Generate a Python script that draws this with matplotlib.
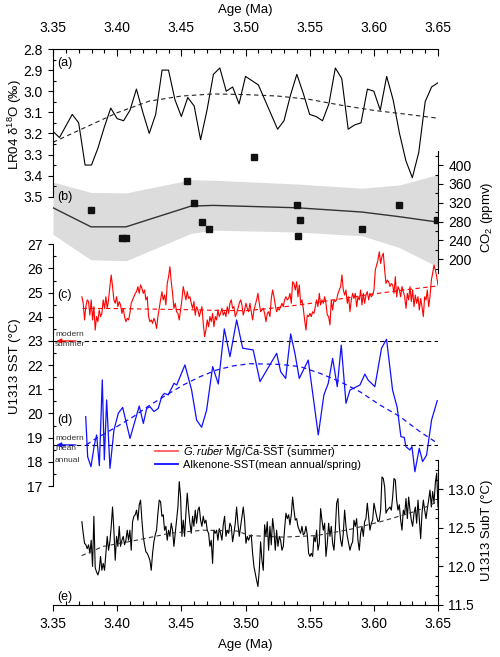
import numpy as np
import matplotlib.pyplot as plt
from matplotlib.ticker import MultipleLocator, FormatStrFormatter

plt.rcParams['font.family'] = ['Liberation Sans', 'DejaVu Sans']
plt.rcParams['mathtext.fontset'] = 'custom'
plt.rcParams['mathtext.rm'] = 'Liberation Sans'
plt.rcParams['mathtext.it'] = 'Liberation Sans:italic'
plt.rcParams['font.size'] = 10

# ---------------- data ----------------
# (a) LR04 benthic d18O, 5 kyr steps
lr04_age = np.round(np.arange(3.35, 3.6501, 0.005), 3)
lr04_d18o = [3.19, 3.22, 3.165, 3.11, 3.15, 3.35, 3.35, 3.27, 3.17, 3.08,
             3.13, 3.14, 3.09, 2.99, 3.10, 3.20, 3.11, 2.90, 2.90, 3.04,
             3.12, 3.03, 3.07, 3.23, 3.09, 2.92, 2.89, 3.00, 2.98, 3.06,
             2.93, 2.95, 2.97, 3.04, 3.11, 3.18, 3.14, 3.02, 2.92, 3.01,
             3.11, 3.12, 3.14, 3.06, 2.89, 2.94, 3.18, 3.16, 3.15, 2.99,
             3.00, 3.09, 2.93, 3.04, 3.20, 3.33, 3.41, 3.29, 3.05, 2.98,
             2.96]
lr04_trend_age = [3.35, 3.375, 3.40, 3.425, 3.45, 3.475, 3.50, 3.525, 3.55,
                  3.575, 3.60, 3.625, 3.65]
lr04_trend = [3.242, 3.172, 3.102, 3.047, 3.023, 3.013, 3.016, 3.023, 3.039,
              3.067, 3.091, 3.109, 3.128]

# (b) CO2
co2_age = [3.3796, 3.4035, 3.4069, 3.4547, 3.4601, 3.4659, 3.4716, 3.5064,
           3.5399, 3.5425, 3.5407, 3.5908, 3.6199, 3.6490]
co2_ppmv = [305, 245, 245, 367, 319, 280, 265, 417, 316, 283, 249, 264, 315, 284]
co2_fit_age = [3.35, 3.3796, 3.4069, 3.4575, 3.4749, 3.5399, 3.5908, 3.62, 3.65]
co2_fit = [309.5, 269, 269, 313, 314.5, 309.5, 300.4, 290.5, 279]
co2_upper = [364, 342, 341, 369, 368, 360, 351, 358, 380]
co2_lower = [253, 199, 197, 255, 262, 258, 250, 225, 184]

# (c) G. ruber Mg/Ca SST (summer)
ruber_sst = [
    24.83, 24.56, 23.87, 24.42, 24.70, 24.63, 24.07, 24.70, 23.87, 24.42,
    23.45, 24.01, 23.80, 24.28, 24.01, 24.14, 24.70, 24.35, 24.83, 24.35,
    24.70, 25.25, 25.73, 25.25, 24.70, 24.56, 24.83, 24.42, 24.63, 24.49,
    24.14, 24.35, 24.01, 23.80, 23.94, 23.87, 24.14, 24.56, 24.70, 24.83,
    24.97, 25.04, 25.25, 24.97, 25.32, 25.18, 24.97, 25.11, 24.70, 24.83,
    24.01, 23.80, 23.87, 23.73, 23.94, 23.80, 23.52, 24.01, 24.35, 24.70,
    25.04, 24.70, 24.90, 24.49, 25.38, 25.66, 26.07, 25.45, 24.97, 24.35,
    24.56, 24.21, 24.14, 23.87, 24.28, 24.70, 25.25, 24.97, 24.70, 25.04,
    24.76, 24.83, 24.56, 24.35, 24.63, 24.07, 24.42, 24.28, 24.01, 24.21,
    24.42, 23.73, 23.18, 23.45, 23.87, 23.59, 24.01, 23.80, 24.14, 23.59,
    24.01, 23.87, 24.28, 24.01, 24.14, 24.35, 24.07, 24.21, 24.01, 24.42,
    24.14, 24.56, 24.70, 24.35, 24.42, 24.01, 24.14, 24.35, 24.56, 24.70,
    24.49, 24.07, 24.28, 24.56, 24.35, 24.21,
    24.56, 24.21, 23.87, 24.28, 24.49, 24.70, 24.97, 24.56, 24.21, 24.28,
    24.35, 24.14, 23.80, 24.14, 24.21, 24.01, 24.76, 25.11, 24.83, 24.49,
    24.21, 24.35, 24.28, 24.42, 24.56, 24.42, 24.70, 24.83, 24.70, 24.76,
    24.97, 24.56, 25.45, 25.38, 25.11, 25.45, 24.83, 25.32, 24.56, 24.70,
    24.35, 23.87, 23.45, 24.07, 24.01, 24.14, 24.01, 24.21, 24.14, 24.42,
    24.70, 24.42, 24.97, 24.49, 24.70, 24.56, 24.83, 24.56, 24.07, 24.01,
    23.66, 24.70, 24.28, 24.70, 24.63, 24.70, 24.97, 25.11, 25.25, 25.73,
    25.11, 24.90, 25.11, 24.56, 24.83, 24.21, 24.70, 24.97, 24.76, 24.97,
    24.42, 24.83, 24.70, 25.11, 24.49, 24.97, 24.56, 24.90, 25.04, 24.70,
    24.97, 24.83, 24.90, 25.11, 25.94, 26.14, 26.35, 26.69, 26.21, 26.49,
    26.63, 25.94, 25.38, 25.52, 25.45, 25.25, 25.38, 25.32, 24.97, 25.66,
    24.83, 25.25, 25.11, 24.83, 25.25, 25.04, 24.83, 24.35, 24.97, 24.70,
    25.25, 24.63, 25.11, 24.42, 24.90, 24.56, 24.83, 24.28, 24.76, 24.42,
    24.01, 24.83, 24.70, 25.11, 24.42, 24.83, 25.52, 25.80, 26.14, 25.94,
    25.66, 25.32]
ruber_age = np.linspace(3.3725, 3.65, len(ruber_sst))
ruber_trend_age = [3.373, 3.40, 3.425, 3.45, 3.475, 3.50, 3.525, 3.55, 3.575,
                   3.60, 3.625, 3.65]
ruber_trend = [24.35, 24.34, 24.32, 24.30, 24.27, 24.25, 24.38, 24.55, 24.75,
               24.95, 25.12, 25.28]

# (d) alkenone SST
alk_age = [3.3755, 3.3770, 3.3796, 3.3822, 3.3840, 3.3861, 3.3884, 3.3900,
           3.3918, 3.3944, 3.3975, 3.4009, 3.4043, 3.4100, 3.4172, 3.4204,
           3.4230, 3.4256, 3.4287, 3.4320, 3.4347, 3.4367, 3.4398, 3.4443,
           3.4464, 3.4528, 3.4580, 3.4619, 3.4658, 3.4697, 3.4744, 3.4788,
           3.4835, 3.4879, 3.4931, 3.4978, 3.5060, 3.5113, 3.5243, 3.5274,
           3.5313, 3.5352, 3.5385, 3.5419, 3.5489, 3.5567, 3.5611, 3.5645,
           3.5679, 3.5715, 3.5746, 3.5783, 3.5814, 3.5892, 3.5930, 3.5956,
           3.6008, 3.6060, 3.6099, 3.6146, 3.6182, 3.6211, 3.6237, 3.6250,
           3.6281, 3.6297, 3.6320, 3.6354, 3.6380, 3.6411, 3.6450, 3.6494]
alk_sst = [19.87, 18.21, 17.80, 18.70, 19.11, 17.84, 21.39, 18.08, 20.56, 17.73,
           19.32, 20.01, 20.25, 18.97, 20.31, 19.59, 20.21, 20.28, 20.08, 20.21,
           20.70, 20.83, 20.77, 21.25, 21.18, 22.01, 20.97, 19.73, 19.43, 20.14,
           21.94, 21.22, 23.50, 22.35, 23.87, 22.70, 22.63, 21.32, 22.49, 21.73,
           21.45, 23.29, 22.49, 21.45, 22.21, 19.11, 20.77, 21.25, 22.28, 21.11,
           22.83, 20.42, 20.97, 21.18, 21.63, 21.38, 21.11, 22.70, 23.07, 20.97,
           20.25, 19.04, 19.01, 18.63, 18.49, 18.63, 17.59, 18.56, 18.01, 18.28,
           19.73, 20.53]
alk_trend_age = [3.376, 3.3814, 3.3996, 3.4126, 3.4256, 3.4386, 3.4515, 3.4645,
                 3.4775, 3.4905, 3.5035, 3.5269, 3.5425, 3.5581, 3.5736, 3.5892,
                 3.6048, 3.6204, 3.6359, 3.6515]
alk_trend = [18.70, 18.90, 19.45, 19.87, 20.35, 20.77, 21.18, 21.52, 21.80, 21.97,
             22.06, 22.03, 21.94, 21.66, 21.32, 20.90, 20.35, 19.87, 19.25, 18.70]
modern_summer = 23.0
modern_annual = 18.7

# (e) subsurface temperature
subt = [
    12.58, 12.43, 12.30, 12.28, 12.23, 12.28, 12.17, 12.34, 12.00, 12.65,
    11.98, 11.93, 11.89, 11.95, 12.13, 11.95, 12.04, 11.95, 12.17, 12.39,
    12.21, 12.32, 12.52, 12.77, 12.47, 12.08, 12.39, 12.26, 12.52, 12.26,
    12.34, 12.39, 12.28, 12.34, 12.47, 12.34, 12.47, 12.21, 12.58, 12.65,
    12.67, 12.73, 12.60, 12.80, 12.86, 12.60, 12.39, 12.28, 12.19, 12.17,
    12.13, 12.08, 11.95, 12.17, 12.32, 12.41, 12.47, 12.69, 12.86, 12.84,
    12.65, 12.67, 12.47, 12.52, 12.34, 12.47, 12.39, 12.56, 12.47, 12.26,
    12.43, 12.60, 12.77, 13.10, 12.90, 12.39, 12.60, 12.39, 12.69, 12.95,
    12.73, 12.56, 12.43, 12.65, 12.52, 12.73, 12.56, 12.73, 12.77, 12.60,
    12.52, 12.65, 12.56, 12.60, 12.47, 12.43, 12.26, 12.34, 12.04, 12.47,
    12.43, 12.47, 12.34, 12.49, 12.43, 12.34, 12.54, 12.65, 12.39, 12.47,
    12.43, 12.56, 12.52, 12.32, 12.43, 12.56, 12.77, 12.56, 12.39, 12.52,
    12.65, 12.77, 12.60, 12.30, 12.39, 12.34,
    12.39, 12.41, 12.17, 12.00, 11.91, 11.82, 11.74, 11.95, 12.32, 12.08,
    11.95, 12.54, 12.39, 12.58, 12.21, 12.52, 12.28, 12.62, 12.47, 12.21,
    12.47, 12.26, 12.39, 12.34, 12.21, 12.26, 12.49, 12.69, 12.62, 12.67,
    12.54, 12.67, 12.90, 12.73, 12.60, 12.62, 12.52, 12.47, 12.43, 12.52,
    12.41, 12.43, 12.52, 12.41, 12.17, 12.13, 12.17, 12.13, 12.39, 12.32,
    12.47, 12.21, 12.30, 12.75, 12.60, 12.47, 12.56, 12.13, 12.30, 12.56,
    12.39, 12.52, 12.30, 12.21, 12.47, 12.82, 12.88, 12.52, 12.34, 12.26,
    12.43, 12.73, 12.52, 12.39, 12.30, 12.21, 12.28, 12.32, 12.60, 12.52,
    12.62, 12.34, 12.21, 12.43, 12.52, 12.39, 12.58, 12.62, 12.82, 12.65,
    12.47, 12.56, 12.60, 12.82, 12.73, 12.65, 12.58, 12.60, 12.73, 13.16,
    13.14, 13.03, 12.69, 12.73, 12.75, 12.77, 12.73, 12.90, 13.14, 13.12,
    12.86, 12.73, 12.80, 12.60, 12.47, 12.73, 12.67, 12.88, 12.62, 12.90,
    12.73, 12.60, 12.52, 12.69, 12.77, 12.56, 12.86, 12.60, 12.36, 12.69,
    12.86, 12.73, 12.62, 12.75, 12.86, 12.99, 12.77, 12.97, 12.82, 13.08,
    13.21, 12.77]
subt_age = np.linspace(3.3725, 3.65, len(subt))
subt_trend_age = [3.3723, 3.3892, 3.4151, 3.4411, 3.4671, 3.4931, 3.5035,
                  3.5295, 3.5554, 3.5814, 3.6074, 3.6334, 3.65]
subt_trend = [12.14, 12.26, 12.34, 12.43, 12.47, 12.46, 12.40, 12.38, 12.40,
              12.48, 12.59, 12.72, 12.84]

# ---------------- layout ----------------
W, H = 500, 657
X0, X1 = 53, 438
fig = plt.figure(figsize=(W / 100, H / 100), dpi=100)


def rect(top, bottom):
    return [X0 / W, 1 - bottom / H, (X1 - X0) / W, (bottom - top) / H]


def bare(ax, keep):
    ax.patch.set_alpha(0)
    for s in ['left', 'right', 'top', 'bottom']:
        ax.spines[s].set_visible(s in keep)
        ax.spines[s].set_linewidth(0.8)
    ax.set_xlim(3.35, 3.65)


def yticks(ax, side, major, minor):
    ax.yaxis.set_major_locator(MultipleLocator(major))
    ax.yaxis.set_minor_locator(MultipleLocator(minor))
    if side == 'right':
        ax.yaxis.tick_right()
    ax.tick_params(axis='y', which='major', direction='out', length=3.5,
                   width=0.8, pad=4, labelsize=10)
    ax.tick_params(axis='y', which='minor', direction='in', length=2.5,
                   width=0.8)


def xticks(ax):
    ax.xaxis.set_major_locator(MultipleLocator(0.05))
    ax.xaxis.set_minor_locator(MultipleLocator(0.01))
    ax.xaxis.set_major_formatter(FormatStrFormatter('%.2f'))


dash = (0, (4, 3))

# (b) CO2
ax_b = fig.add_axes(rect(151, 273))
bare(ax_b, ['right'])
ax_b.xaxis.set_visible(False)
ax_b.set_ylim(171, 430)
ax_b.fill_between(co2_fit_age, co2_lower, co2_upper, color='#dcdcdc', lw=0)
ax_b.plot(co2_fit_age, co2_fit, color='#333333', lw=1.0)
ax_b.plot(co2_age, co2_ppmv, 's', color='#111111', ms=5)
yticks(ax_b, 'right', 40, 20)

# (e) SubT
ax_e = fig.add_axes(rect(460, 605))
bare(ax_e, ['right', 'bottom'])
ax_e.set_ylim(11.5, 13.38)
ax_e.plot(subt_age, subt, color='black', lw=0.8)
ax_e.plot(subt_trend_age, subt_trend, color='#333333', lw=0.8, ls=dash)
yticks(ax_e, 'right', 0.5, 0.125)
ax_e.yaxis.set_major_formatter(FormatStrFormatter('%.1f'))
xticks(ax_e)
ax_e.tick_params(axis='x', which='major', direction='out', length=4,
                 width=0.8, pad=5, labelsize=10)
ax_e.tick_params(axis='x', which='minor', direction='in', length=3, width=0.8)

# (c)/(d) SST
ax_cd = fig.add_axes(rect(244.3, 486))
bare(ax_cd, ['left'])
ax_cd.xaxis.set_visible(False)
ax_cd.set_ylim(17, 27)
ax_cd.axhline(modern_summer, color='black', lw=0.8, ls=dash)
ax_cd.axhline(modern_annual, color='black', lw=0.8, ls=dash)
ax_cd.plot(ruber_age, ruber_sst, color='red', lw=0.8,
           label=r'$\it{G.ruber}$ Mg/Ca-SST (summer)')
ax_cd.plot(ruber_trend_age, ruber_trend, color='red', lw=0.8, ls=dash)
ax_cd.plot(alk_age, alk_sst, color='#1010ff', lw=0.9,
           label='Alkenone-SST(mean annual/spring)')
ax_cd.plot(alk_trend_age, alk_trend, color='#1010ff', lw=0.9, ls=dash)
yticks(ax_cd, 'left', 1, 0.5)
ax_cd.annotate('', xy=(3.3505, modern_summer), xytext=(3.370, modern_summer),
               arrowprops=dict(arrowstyle='-|>', color='red', lw=0.9,
                               mutation_scale=7))
ax_cd.annotate('', xy=(3.3505, modern_annual), xytext=(3.370, modern_annual),
               arrowprops=dict(arrowstyle='-|>', color='#1010ff', lw=0.9,
                               mutation_scale=7))
leg = ax_cd.legend(loc='upper left', bbox_to_anchor=(155 / W, 1 - 445 / H),
                   bbox_transform=fig.transFigure, frameon=False, fontsize=8,
                   borderpad=0, borderaxespad=0, handlelength=2.1,
                   handletextpad=0.45, labelspacing=0.1)
leg.get_lines()[0].set_color('#ff5a5a')
for ln in leg.get_lines():
    ln.set_linewidth(1.3)

# (a) LR04
ax_a = fig.add_axes(rect(49, 196.7))
bare(ax_a, ['left', 'top'])
ax_a.set_ylim(3.5, 2.8)
ax_a.plot(lr04_age, lr04_d18o, color='black', lw=0.8)
ax_a.plot(lr04_trend_age, lr04_trend, color='#222222', lw=0.8, ls=dash)
yticks(ax_a, 'left', 0.1, 0.05)
ax_a.yaxis.set_major_formatter(FormatStrFormatter('%.1f'))
ax_a.xaxis.tick_top()
xticks(ax_a)
ax_a.tick_params(axis='x', which='major', direction='in', length=5,
                 width=0.8, pad=10, labelsize=10)
ax_a.tick_params(axis='x', which='minor', direction='in', length=3, width=0.8)

# ---------------- text ----------------
def ftext(x, y, s, **kw):
    fig.text(x / W, 1 - y / H, s, **kw)


ftext(245.5, 10, 'Age (Ma)', ha='center', va='center', fontsize=9.5)
ftext(245.5, 645, 'Age (Ma)', ha='center', va='center', fontsize=9.5)
ftext(15, 125, r'LR04 δ$^{18}$O (‰)', rotation=90, ha='center', va='center',
      fontsize=9.5)
ftext(15, 366, 'U1313 SST (°C)', rotation=90, ha='center', va='center',
      fontsize=9.5)
ftext(487, 217, r'CO$_2$ (ppmv)', rotation=90, ha='center', va='center',
      fontsize=9.5)
ftext(487, 530, 'U1313 SubT (°C)', rotation=90, ha='center', va='center',
      fontsize=9.5)
for lab, yy in [('(a)', 63), ('(b)', 197), ('(c)', 295), ('(d)', 420),
                ('(e)', 597)]:
    ftext(57, yy, lab, ha='left', va='center', fontsize=9)
for lab, yy in [('modern', 334), ('summer', 345), ('modern', 439),
                ('mean', 449), ('annual', 460)]:
    ftext(55, yy, lab, ha='left', va='center', fontsize=6, color='#333333')

fig.savefig('out.png', dpi=100)
